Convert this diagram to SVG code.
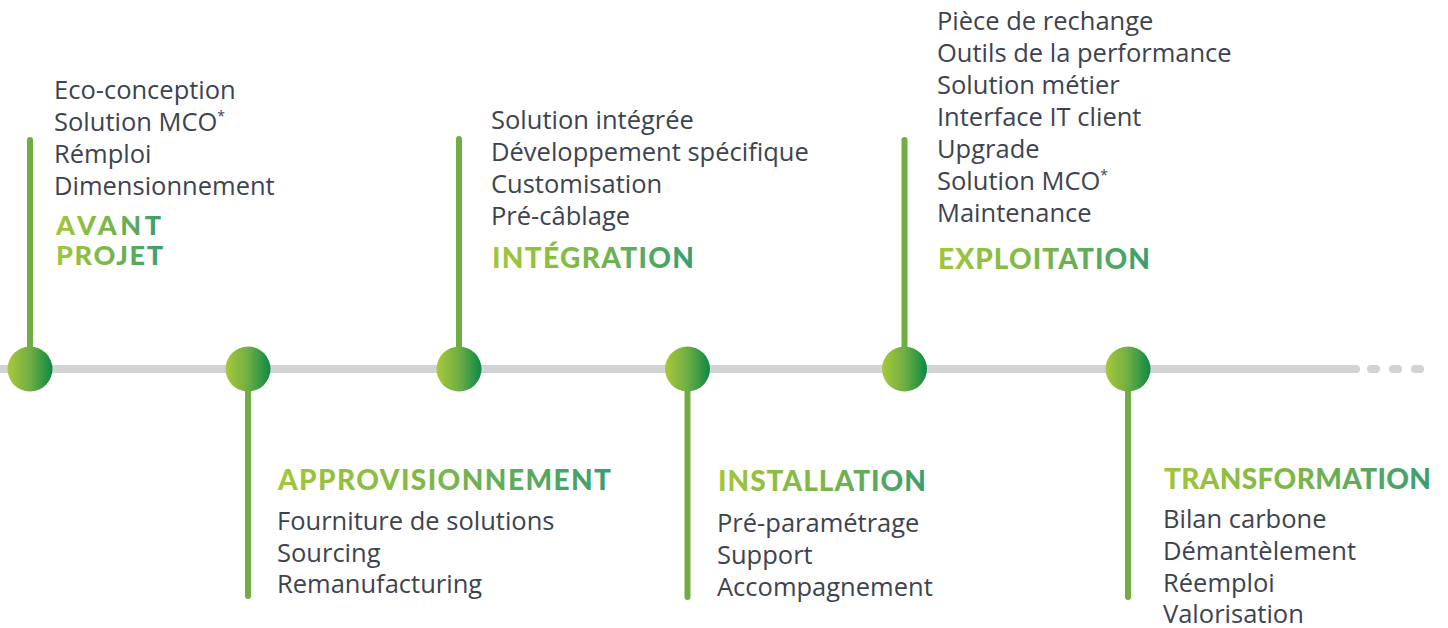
<svg xmlns="http://www.w3.org/2000/svg" width="1448" height="628" viewBox="0 0 1448 628">
<defs>
<linearGradient id="gDot" x1="0" y1="0" x2="1" y2="0">
<stop offset="0" stop-color="#a8c93a"/>
<stop offset="0.5" stop-color="#6fae45"/>
<stop offset="1" stop-color="#0b8944"/>
</linearGradient>
<linearGradient id="gTitle" x1="0" y1="0" x2="1" y2="0">
<stop offset="0" stop-color="#a3c63a"/>
<stop offset="0.5" stop-color="#7ab64a"/>
<stop offset="1" stop-color="#3a9d6f"/>
</linearGradient>
<style>
.list{font-family:"Open Sans","Noto Sans",sans-serif;font-size:25.5px;fill:#3e4350;}
.sup{font-size:14px;}
.title{font-family:Lato,"Liberation Sans",sans-serif;font-weight:900;font-size:28px;fill:url(#gTitle);}
.small{font-size:27px;}
.stem{stroke:#70ad45;stroke-width:6;stroke-linecap:round;fill:none;}
.dot{fill:url(#gDot);}
.track{stroke:#d2d3d5;stroke-width:8;stroke-linecap:round;fill:none;}
</style>
</defs>
<rect width="1448" height="628" fill="#ffffff"/>
<g id="connectors">
<line class="track" x1="-10" y1="369" x2="1356" y2="369"/>
<line class="track" x1="1371" y1="369" x2="1376" y2="369"/>
<line class="track" x1="1393" y1="369" x2="1398" y2="369"/>
<line class="track" x1="1415" y1="369" x2="1420" y2="369"/>
<line class="stem" x1="30" y1="140" x2="30" y2="369"/>
<line class="stem" x1="248" y1="369" x2="248" y2="596"/>
<line class="stem" x1="459" y1="139" x2="459" y2="369"/>
<line class="stem" x1="687.5" y1="369" x2="687.5" y2="597"/>
<line class="stem" x1="904.5" y1="140" x2="904.5" y2="369"/>
<line class="stem" x1="1128" y1="369" x2="1128" y2="597"/>
</g>
<g id="avant-projet">
<circle class="dot" cx="30" cy="369" r="22.5"/>
<text class="list" x="54" y="99">Eco-conception</text>
<text class="list" x="54" y="131">Solution MCO<tspan class="sup" dy="-10">*</tspan></text>
<text class="list" x="54" y="163">Rémploi</text>
<text class="list" x="54" y="195">Dimensionnement</text>
<text class="title small" x="56" y="235" textLength="105" lengthAdjust="spacing">AVANT</text>
<text class="title small" x="56" y="265" textLength="107" lengthAdjust="spacing">PROJET</text>
</g>
<g id="approvisionnement">
<circle class="dot" cx="248" cy="369" r="22.5"/>
<text class="title" x="278" y="490" textLength="333" lengthAdjust="spacing">APPROVISIONNEMENT</text>
<text class="list" x="277" y="530">Fourniture de solutions</text>
<text class="list" x="277" y="562">Sourcing</text>
<text class="list" x="277" y="593">Remanufacturing</text>
</g>
<g id="integration">
<circle class="dot" cx="459" cy="369" r="22.5"/>
<text class="list" x="491" y="129">Solution intégrée</text>
<text class="list" x="491" y="161">Développement spécifique</text>
<text class="list" x="491" y="193">Customisation</text>
<text class="list" x="491" y="225">Pré-câblage</text>
<text class="title" x="492" y="268" textLength="202" lengthAdjust="spacing">INTÉGRATION</text>
</g>
<g id="installation">
<circle class="dot" cx="687.5" cy="369" r="22.5"/>
<text class="title" x="718" y="491" textLength="208" lengthAdjust="spacing">INSTALLATION</text>
<text class="list" x="717" y="532">Pré-paramétrage</text>
<text class="list" x="717" y="564">Support</text>
<text class="list" x="717" y="596">Accompagnement</text>
</g>
<g id="exploitation">
<circle class="dot" cx="904.5" cy="369" r="22.5"/>
<text class="list" x="937" y="30">Pièce de rechange</text>
<text class="list" x="937" y="62">Outils de la performance</text>
<text class="list" x="937" y="94">Solution métier</text>
<text class="list" x="937" y="126">Interface IT client</text>
<text class="list" x="937" y="158">Upgrade</text>
<text class="list" x="937" y="190">Solution MCO<tspan class="sup" dy="-10">*</tspan></text>
<text class="list" x="937" y="222">Maintenance</text>
<text class="title" x="938" y="269" textLength="212" lengthAdjust="spacing">EXPLOITATION</text>
</g>
<g id="transformation">
<circle class="dot" cx="1128" cy="369" r="22.5"/>
<text class="title" x="1164" y="489" textLength="267" lengthAdjust="spacing">TRANSFORMATION</text>
<text class="list" x="1163" y="528">Bilan carbone</text>
<text class="list" x="1163" y="560">Démantèlement</text>
<text class="list" x="1163" y="592">Réemploi</text>
<text class="list" x="1163" y="623">Valorisation</text>
</g>
</svg>
